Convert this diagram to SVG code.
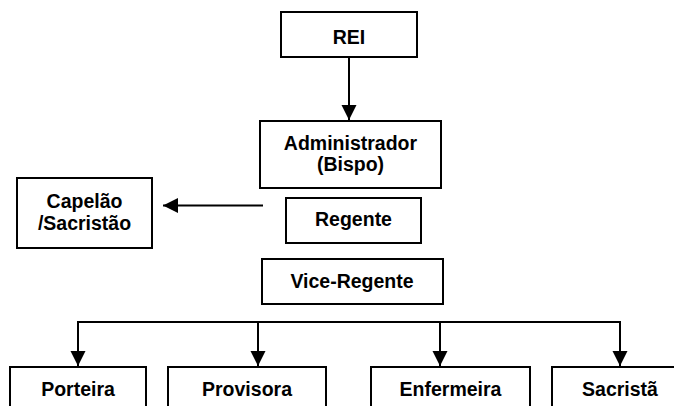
<svg xmlns="http://www.w3.org/2000/svg" width="674" height="406" viewBox="0 0 674 406">
<style>
.box{fill:#fff;stroke:#000;stroke-width:2}
.t{font-family:"Liberation Sans",Arial,sans-serif;font-weight:bold;font-size:19.5px;fill:#000;text-anchor:middle}
.ln{fill:none;stroke:#000;stroke-width:2}
</style>
<defs>
<marker id="ah" markerUnits="userSpaceOnUse" markerWidth="16" markerHeight="16" viewBox="0 0 16 16" refX="15" refY="8" orient="auto">
<path d="M0,0.5 L15,8 L0,15.5 z" fill="#000"/>
</marker>
</defs>
<rect width="674" height="406" fill="#fff"/>
<g id="connectors">
<line class="ln" x1="349" y1="57" x2="349" y2="120" marker-end="url(#ah)"/>
<line class="ln" x1="263" y1="205.5" x2="163" y2="205.5" marker-end="url(#ah)"/>
<polyline class="ln" points="78,322 620,322"/>
<line class="ln" x1="78" y1="321" x2="78" y2="366" marker-end="url(#ah)"/>
<line class="ln" x1="258" y1="321" x2="258" y2="366" marker-end="url(#ah)"/>
<line class="ln" x1="440" y1="321" x2="440" y2="366" marker-end="url(#ah)"/>
<line class="ln" x1="620" y1="321" x2="620" y2="366" marker-end="url(#ah)"/>
</g>
<g id="rei"><rect class="box" x="281" y="12" width="136" height="45"/><text class="t" x="349" y="43.5">REI</text></g>
<g id="administrador"><rect class="box" x="260" y="121" width="181" height="67"/><text class="t" x="350.5" y="149.5">Administrador</text><text class="t" x="350.5" y="170.5">(Bispo)</text></g>
<g id="capelao"><rect class="box" x="17" y="178" width="135" height="70"/><text class="t" x="84.5" y="207.5">Capelão</text><text class="t" x="84.5" y="230">/Sacristão</text></g>
<g id="regente"><rect class="box" x="286" y="198" width="135" height="45"/><text class="t" x="353.5" y="226">Regente</text></g>
<g id="vice-regente"><rect class="box" x="262" y="259" width="181" height="45"/><text class="t" x="352" y="287.5">Vice-Regente</text></g>
<g id="porteira"><rect class="box" x="10" y="367" width="136" height="60"/><text class="t" x="78" y="395.5">Porteira</text></g>
<g id="provisora"><rect class="box" x="168" y="367" width="158" height="60"/><text class="t" x="247" y="395.5">Provisora</text></g>
<g id="enfermeira"><rect class="box" x="371" y="367" width="159" height="60"/><text class="t" x="450.5" y="395.5">Enfermeira</text></g>
<g id="sacrista"><rect class="box" x="552" y="367" width="136" height="60"/><text class="t" x="620" y="395.5">Sacristã</text></g>
</svg>
